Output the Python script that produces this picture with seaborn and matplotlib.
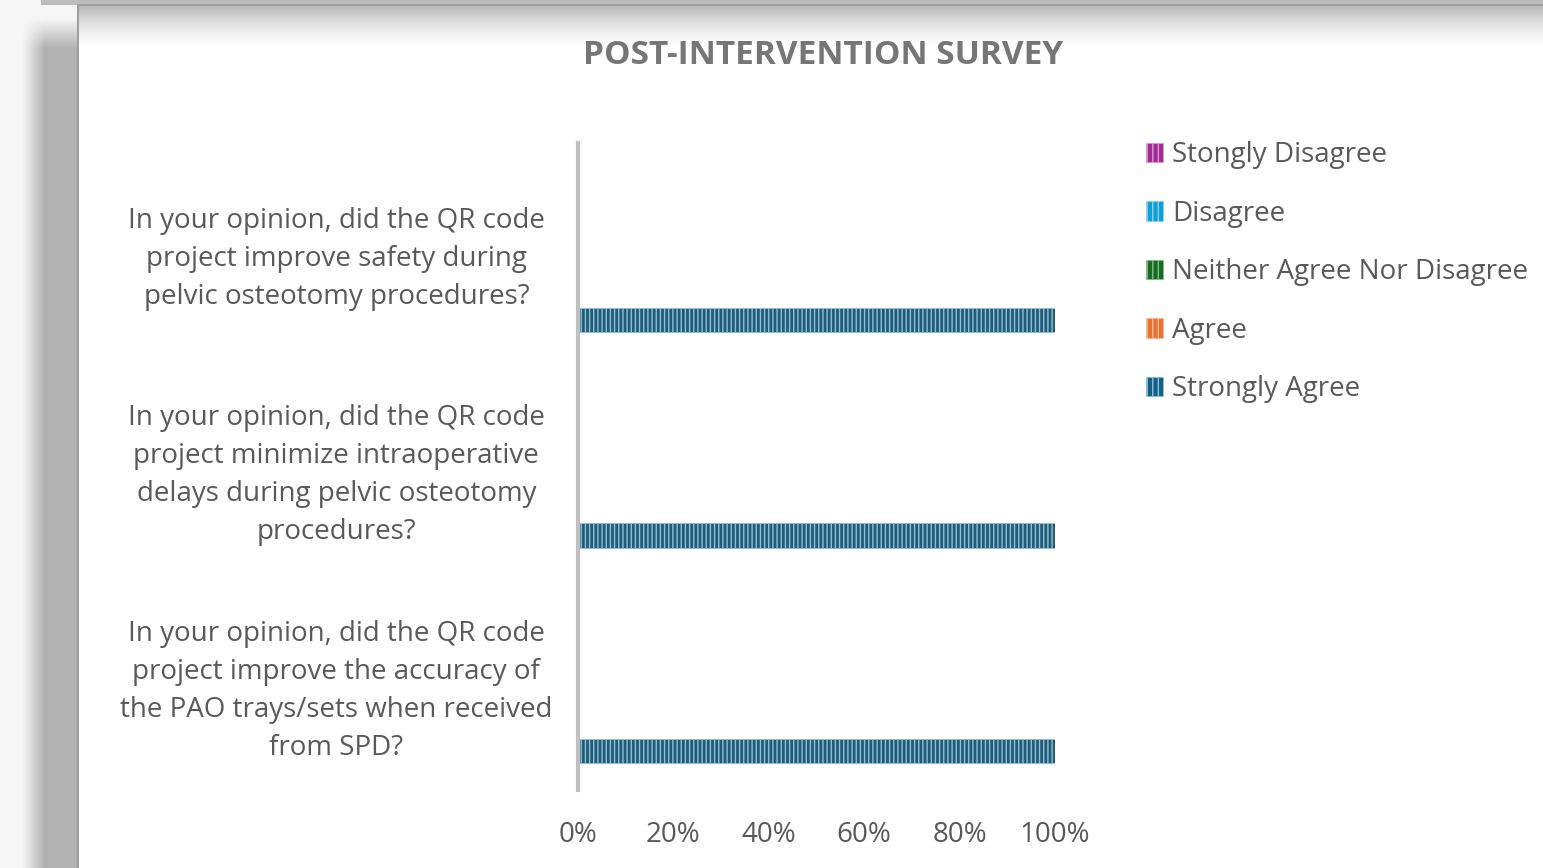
import numpy as np
import pandas as pd
import matplotlib
matplotlib.use("Agg")
import matplotlib.pyplot as plt
import seaborn as sns
from matplotlib.patches import Patch

# Survey questions (top to bottom)
questions = [
    "In your opinion, did the QR code\nproject improve safety during\npelvic osteotomy procedures?",
    "In your opinion, did the QR code\nproject minimize intraoperative\ndelays during pelvic osteotomy\nprocedures?",
    "In your opinion, did the QR code\nproject improve the accuracy of\nthe PAO trays/sets when received\nfrom SPD?",
]

# Response levels, as written in the legend
responses = ["Stongly Disagree", "Disagree", "Neither Agree Nor Disagree", "Agree", "Strongly Agree"]

# Share of answers per response level, one value per question
stongly_disagree = [0.0, 0.0, 0.0]
disagree = [0.0, 0.0, 0.0]
neither = [0.0, 0.0, 0.0]
agree = [0.0, 0.0, 0.0]
strongly_agree = [1.0, 1.0, 1.0]

xticks = [0.0, 0.2, 0.4, 0.6, 0.8, 1.0]
xtick_labels = ["0%", "20%", "40%", "60%", "80%", "100%"]

colors = ["#A02B93", "#0F9ED5", "#196B24", "#E97132", "#156082"]
stripe_colors = ["#d99ad3", "#8fd3f0", "#7fbf88", "#f6b894", "#8cc2dc"]

# long table for seaborn
values = [stongly_disagree, disagree, neither, agree, strongly_agree]
rows = []
for resp, vals in zip(responses, values):
    for q, v in zip(questions, vals):
        rows.append({"question": q, "response": resp, "share": v})
df = pd.DataFrame(rows)

sns.set_theme(style="white")
plt.rcParams["font.family"] = ["Open Sans", "DejaVu Sans"]
text_col = "#595959"

fig = plt.figure(figsize=(15.43, 8.68), dpi=100)

# screenshot card background with drop shadow
H, W = 868, 1543
yy, xx = np.mgrid[0:H, 0:W].astype(float)
bg = np.full((H, W), 0.965)
shadow = np.clip((xx - 22) / 22, 0, 1) * np.clip((yy - 18) / 30, 0, 1)
bg = bg - 0.27 * shadow
bg[(yy < 5) & (xx > 40)] = 0.74
card = (xx >= 79) & (yy >= 6)
top_fade = 1 - 0.27 * np.clip(1 - (yy - 6) / 40, 0, 1) ** 1.4
bg[card] = top_fade[card]
bg[(xx >= 77) & (xx < 79) & (yy >= 4)] = 0.62
bg[(yy >= 4) & (yy < 6) & (xx >= 77)] = 0.62
bgax = fig.add_axes([0, 0, 1, 1], zorder=-5)
bgax.imshow(np.dstack([bg, bg, bg]), aspect="auto", extent=[0, 1, 0, 1], interpolation="bilinear")
bgax.axis("off")

ax = fig.add_axes([578 / W, 1 - 790 / H, 477 / W, (790 - 143) / H])
ax.patch.set_alpha(0)
sns.barplot(data=df, y="question", x="share", hue="response", hue_order=responses,
            order=questions, palette=colors, orient="h", width=0.8, gap=0.3,
            legend=False, ax=ax)

for i, cont in enumerate(ax.containers):
    for bar in cont:
        bar.set_hatch("||||")
        bar.set_edgecolor(stripe_colors[i])
        bar.set_linewidth(0.6 if bar.get_width() > 0 else 0)

ax.set_xlim(0, 1)
ax.set_xticks(xticks)
ax.set_xticklabels(xtick_labels)
ax.set_xlabel("")
ax.set_ylabel("")
for s in ["top", "right", "bottom"]:
    ax.spines[s].set_visible(False)
ax.spines["left"].set_color("#bfbfbf")
ax.spines["left"].set_linewidth(3)
ax.tick_params(axis="x", length=0, pad=22, labelsize=20, labelcolor=text_col)
ax.tick_params(axis="y", length=0, pad=174, labelsize=20, labelcolor=text_col)
for lab in ax.get_yticklabels():
    lab.set_ha("center")
    lab.set_multialignment("center")
    lab.set_linespacing(1.48)

fig.text(823 / W, 1 - 55 / H, "POST-INTERVENTION SURVEY", ha="center", va="center",
         fontsize=24, fontweight="bold", color="#767676")

handles = [Patch(facecolor=c, edgecolor=s, hatch="|||", linewidth=0.5)
           for c, s in zip(colors, stripe_colors)]
fig.legend(handles, responses, loc="upper left", bbox_to_anchor=(1146 / W, 1 - 141 / H),
           frameon=False, fontsize=20, labelcolor=text_col, borderaxespad=0, borderpad=0,
           handlelength=0.6, handleheight=0.7, handletextpad=0.35, labelspacing=1.1)

fig.savefig("out.png", dpi=100)
